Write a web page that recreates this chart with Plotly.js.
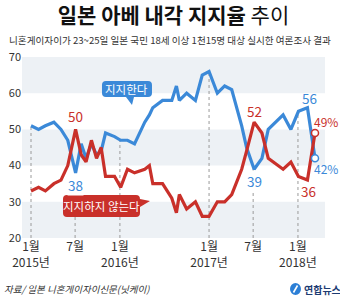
<!DOCTYPE html>
<html>
<head>
<meta charset="utf-8">
<script src="https://cdn.plot.ly/plotly-3.0.1.min.js"></script>
<style>html,body{margin:0;padding:0;background:#fff;}#chart{width:340px;height:299px;}</style>
</head>
<body>
<div id="chart"></div>
<script>
// ---- data ----
var dates = ["2015-01-01","2015-02-01","2015-03-01","2015-04-05","2015-05-04","2015-06-01","2015-07-03","2015-07-26","2015-08-15","2015-09-06","2015-09-27","2015-10-16","2015-11-03","2015-12-10","2016-01-04","2016-02-01","2016-03-01","2016-04-12","2016-05-01","2016-05-15","2016-06-24","2016-08-01","2016-08-20","2016-09-01","2016-10-01","2016-11-06","2016-12-04","2017-01-01","2017-02-04","2017-03-06","2017-04-04","2017-05-15","2017-06-04","2017-07-05","2017-08-06","2017-09-01","2017-11-01","2017-12-03","2018-01-03","2018-02-09","2018-03-12"];
var support = [51,50,51,52,50,47,38,46,42,46,43,44,49,48,47,47,46,52,54,56,58,58,62,58,60,58,65,66,60,62,61,51,45,39,42,50,54,50,55,56,42];
var oppose  = [33,34,33,35,36,40,50,43,41,47,42,45,37,37,34,39,38,39,40,35,35,31,27,32,28,30,26,26,30,30,32,39,44,52,49,42,39,41,37,36,49];
var tickDates = ["2015-01-01","2015-07-01","2016-01-01","2017-01-01","2017-07-01","2018-01-01"];
var tickLabels = ["1월<br>2015년","7월","1월<br>2016년","1월<br>2017년","7월","1월<br>2018년"];
var yTicks = [20,30,40,50,60,70];
var supportName = "지지한다";
var opposeName = "지지하지 않는다";
var titleText = "<b>일본 아베 내각 지지율</b> 추이";
var subtitleText = "니혼게이자이가 23~25일 일본 국민 18세 이상 1천15명 대상 실시한 여론조사 결과";
var sourceText = "자료/ 일본 니혼게이자이신문(닛케이)";
var logoText = "연합뉴스";

var BLUE = "#3b89d8", RED = "#c9302a";
var FONT = "Noto Sans CJK KR, Noto Sans, sans-serif";

// geometry helpers (plot area: l=22, r=15, t=57, b=61 -> 303 x 181)
var L = 22, T = 57, W = 303, H = 181;
function px2x(px) { return (px - L) / W; }
function py2y(py) { return (T + H - py) / H; }
function P(px, py) { return px2x(px).toFixed(4) + "," + py2y(py).toFixed(4); }
function bubble(x0, y0, x1, y1, r, tail) {
  var s = "M" + P(x0 + r, y0) + " L" + P(x1 - r, y0) + " Q" + P(x1, y0) + " " + P(x1, y0 + r);
  if (tail.side === "right") { tail.pts.forEach(function (p) { s += " L" + P(p[0], p[1]); }); }
  s += " L" + P(x1, y1 - r) + " Q" + P(x1, y1) + " " + P(x1 - r, y1);
  if (tail.side === "bottom") { tail.pts.forEach(function (p) { s += " L" + P(p[0], p[1]); }); }
  s += " L" + P(x0 + r, y1) + " Q" + P(x0, y1) + " " + P(x0, y1 - r) + " L" + P(x0, y0 + r) + " Q" + P(x0, y0) + " " + P(x0 + r, y0) + " Z";
  return s;
}
function t(d) { return new Date(d + "T00:00:00Z").getTime(); }
function interp(d) {
  var x = t(d);
  for (var i = 0; i < dates.length - 1; i++) {
    var a = t(dates[i]), b = t(dates[i + 1]);
    if (x >= a && x <= b) return support[i] + (support[i + 1] - support[i]) * (x - a) / (b - a);
  }
  return support[0];
}

var shapes = [];
[[60, 70], [40, 50], [20, 30]].forEach(function (b) {
  shapes.push({type: "rect", xref: "paper", yref: "y", x0: 0, x1: 1, y0: b[0], y1: b[1], fillcolor: "#edf1f5", line: {width: 0}, layer: "below"});
});
tickDates.forEach(function (d) {
  shapes.push({type: "line", xref: "x", yref: "y", x0: d, x1: d, y0: 20, y1: interp(d), line: {color: "#9a9a9a", width: 1, dash: "3px,3px"}, layer: "below"});
});
shapes.push({type: "path", xref: "paper", yref: "paper", path: bubble(102, 81, 152, 97, 4, {side: "bottom", pts: [[134, 97], [132, 105], [126, 97]]}), fillcolor: BLUE, line: {width: 0}});
shapes.push({type: "path", xref: "paper", yref: "paper", path: bubble(63, 195, 140, 217, 4, {side: "right", pts: [[140, 199], [150, 201], [140, 207]]}), fillcolor: RED, line: {width: 0}});
// logo circle
shapes.push({type: "circle", xref: "paper", yref: "paper", x0: px2x(290), x1: px2x(301), y0: py2y(295), y1: py2y(283), fillcolor: "#2c7fd6", line: {width: 0}});
shapes.push({type: "line", xref: "paper", yref: "paper", x0: px2x(293.5), x1: px2x(297.5), y0: py2y(292.5), y1: py2y(285.5), line: {color: "#fff", width: 1.6}});

var n = dates.length - 1;
function idx(d) { return dates.indexOf(d); }
var iJul15 = idx("2015-07-03"), iJul17 = idx("2017-07-05"), iFeb18 = idx("2018-02-09");

function ann(o) { o.showarrow = false; if (!o.xanchor) o.xanchor = "center"; if (!o.yanchor) o.yanchor = "middle"; return o; }

var annotations = [
  ann({xref: "paper", yref: "paper", x: px2x(170), y: py2y(40), text: subtitleText, font: {family: FONT, size: 9.6, color: "#333"}}),
  ann({xref: "paper", yref: "paper", x: px2x(127), y: py2y(89), text: supportName, font: {family: FONT, size: 11.5, color: "#fff"}}),
  ann({xref: "paper", yref: "paper", x: px2x(101.5), y: py2y(206), text: opposeName, font: {family: FONT, size: 11.5, color: "#fff"}}),
  ann({xref: "x", yref: "y", x: dates[iJul15], y: oppose[iJul15], yshift: 13, text: String(oppose[iJul15]), font: {family: FONT, size: 13.5, color: RED}}),
  ann({xref: "x", yref: "y", x: dates[iJul15], y: support[iJul15], yshift: -12, text: String(support[iJul15]), bgcolor: "#fff", borderpad: 0, font: {family: FONT, size: 13.5, color: BLUE}}),
  ann({xref: "x", yref: "y", x: dates[iJul17], y: oppose[iJul17], yshift: 11, text: String(oppose[iJul17]), font: {family: FONT, size: 13.5, color: RED}}),
  ann({xref: "x", yref: "y", x: dates[iJul17], y: support[iJul17], yshift: -12, text: String(support[iJul17]), bgcolor: "#fff", borderpad: 0, font: {family: FONT, size: 13.5, color: BLUE}}),
  ann({xref: "x", yref: "y", x: dates[iFeb18], y: support[iFeb18], yshift: 10, xshift: 2, text: String(support[iFeb18]), font: {family: FONT, size: 13.5, color: BLUE}}),
  ann({xref: "x", yref: "y", x: dates[iFeb18], y: oppose[iFeb18], yshift: -11, xshift: 1, text: String(oppose[iFeb18]), font: {family: FONT, size: 13.5, color: RED}}),
  ann({xref: "x", yref: "y", x: dates[n], y: oppose[n], yshift: 12, xshift: -3, xanchor: "left", text: oppose[n] + "%", font: {family: FONT, size: 12, color: RED}}),
  ann({xref: "x", yref: "y", x: dates[n], y: support[n], yshift: -10, xshift: -3, xanchor: "left", text: support[n] + "%", font: {family: FONT, size: 12, color: BLUE}}),
  ann({xref: "paper", yref: "paper", x: px2x(2), y: py2y(289), xanchor: "left", text: "<i>" + sourceText + "</i>", font: {family: FONT, size: 9.5, color: "#333"}}),
  ann({xref: "paper", yref: "paper", x: px2x(302), y: py2y(289), xanchor: "left", text: "<b>" + logoText + "</b>", font: {family: FONT, size: 10, color: "#1d3c73"}})
];

var traces = [
  {x: dates, y: support, type: "scatter", mode: "lines", line: {color: BLUE, width: 3.2}, hoverinfo: "skip"},
  {x: dates, y: oppose, type: "scatter", mode: "lines", line: {color: RED, width: 3.2}, hoverinfo: "skip"},
  {x: [dates[n], dates[n]], y: [oppose[n], support[n]], type: "scatter", mode: "markers", marker: {size: 7, color: "#fff", line: {color: [RED, BLUE], width: 1.5}}, hoverinfo: "skip"}
];

var layout = {
  width: 340, height: 299,
  margin: {l: L, r: 15, t: T, b: 61},
  paper_bgcolor: "#fff", plot_bgcolor: "rgba(0,0,0,0)",
  showlegend: false,
  title: {text: titleText, x: 0.5, xanchor: "center", xref: "paper", y: 1 - 16 / 299, yref: "container", yanchor: "middle", font: {family: FONT, size: 21, color: "#111"}},
  xaxis: {type: "date", range: ["2014-11-25", "2018-04-22"], tickvals: tickDates, ticktext: tickLabels, showgrid: false, zeroline: false, showline: false, ticks: "", tickfont: {family: FONT, size: 12, color: "#333"}},
  yaxis: {range: [20, 70], tickvals: yTicks, showgrid: false, zeroline: false, showline: false, ticks: "", tickfont: {family: FONT, size: 11, color: "#333"}},
  shapes: shapes,
  annotations: annotations
};

Plotly.newPlot("chart", traces, layout, {staticPlot: true, displayModeBar: false});
</script>
</body>
</html>
